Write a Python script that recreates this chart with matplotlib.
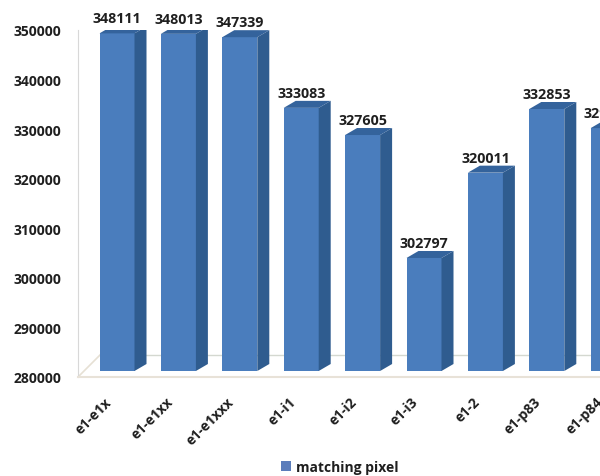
import matplotlib
matplotlib.use("Agg")
import matplotlib.pyplot as plt
from matplotlib.patches import Polygon, Rectangle
from matplotlib.transforms import ScaledTranslation

categories = ['e1-e1x', 'e1-e1xx', 'e1-e1xxx', 'e1-i1', 'e1-i2', 'e1-i3', 'e1-2', 'e1-p83', 'e1-p84']
values = [348111, 348013, 347339, 333083, 327605, 302797, 320011, 332853, 329000]
yticks = [280000, 290000, 300000, 310000, 320000, 330000, 340000, 350000]

FRONT = '#4a7dbd'
SIDE = '#2f5c8f'
TOP = '#34639c'
TEXT = '#1f1f1f'
FONT = ['Open Sans', 'DejaVu Sans']

W, H = 600, 477
RIGHT = 650  # axes run past the right edge so the last bar is cut off
fig = plt.figure(figsize=(W / 100, H / 100), dpi=100)
ax = fig.add_axes([78 / W, 1 - 378 / H, (RIGHT - 78) / W, 347 / H])

spacing = 61.4
x0 = -(117 - 78) / spacing
x1 = (RIGHT - 117) / spacing

# one pixel along each axis, in data units, for the fake depth
px = 1 / spacing
py = 70000 / 347

bar_w = 35 * px
lift = 6 * py          # front face sits above the floor edge
dx, dy = 12 * px, 7 * py   # depth of each bar

# floor
ax.plot([x0, x0 + 22 * px], [280000, 280000 + 22 * py], color='#e6e0d4', lw=1.2, zorder=1)
ax.plot([x0 + 22 * px, x1], [280000 + 22 * py] * 2, color='#d4d8d0', lw=1, zorder=1)

for i, v in enumerate(values):
    left = i - bar_w / 2
    right = i + bar_w / 2
    base = 280000 + lift
    t = v + lift
    ax.add_patch(Rectangle((left, base), bar_w, t - base, fc=FRONT, ec='none', zorder=3))
    ax.add_patch(Polygon([(right, base), (right + dx, base + dy), (right + dx, t + dy), (right, t)],
                         closed=True, fc=SIDE, ec='none', zorder=3))
    ax.add_patch(Polygon([(left, t), (left + dx, t + dy), (right + dx, t + dy), (right, t)],
                         closed=True, fc=TOP, ec='none', zorder=3))
    ax.text(i, t + 15 * py, str(v), ha='center', va='center', fontsize=10.3, fontweight='bold',
            color=TEXT, family=FONT, zorder=5)

for s in ['top', 'right']:
    ax.spines[s].set_visible(False)
ax.spines['left'].set_color('#d8d8d8')
ax.spines['bottom'].set_color('#e8e2d8')
ax.spines['bottom'].set_linewidth(1.5)
ax.tick_params(length=0)

ax.set_yticks(yticks)
ax.set_yticklabels([str(t) for t in yticks], fontsize=10, fontweight='bold', color=TEXT, family=FONT)
ax.tick_params(axis='y', pad=12)

ax.set_xticks(range(len(categories)))
ax.set_xticklabels(categories, rotation=45, ha='right', rotation_mode='anchor',
                   fontsize=10, fontweight='bold', color=TEXT, family=FONT)
ax.tick_params(axis='x', pad=12.5)
shift = ScaledTranslation(-13 / 100, 0, fig.dpi_scale_trans)
for lab in ax.get_xticklabels():
    lab.set_transform(lab.get_transform() + shift)

ax.set_xlim(x0, x1)
ax.set_ylim(280000, 350000)

handle = Rectangle((0, 0), 1, 1, fc='#5b7dbb', ec='none')
fig.legend([handle], ['matching pixel'], loc='center', bbox_to_anchor=(340 / W, 1 - 468 / H),
           frameon=False, handlelength=0.72, handleheight=0.72, handletextpad=0.35,
           prop={'family': FONT, 'size': 10, 'weight': 'bold'}, labelcolor=TEXT)

fig.savefig('out.png', dpi=100)
